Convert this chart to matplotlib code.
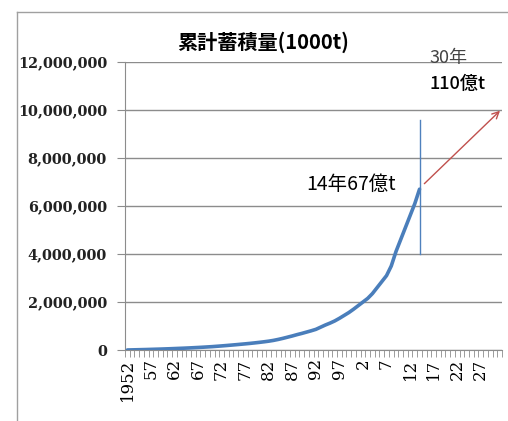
import matplotlib
matplotlib.use("Agg")
import matplotlib.pyplot as plt
from matplotlib.lines import Line2D
from matplotlib.ticker import FuncFormatter

plt.rcParams['font.family'] = ['Noto Sans CJK JP', 'DejaVu Sans']

# categories 1952..2031, data only up to 2014
years = list(range(1952, 2032))
tick_labels = ['1952', '57', '62', '67', '72', '77', '82', '87', '92', '97',
               '2', '7', '12', '17', '22', '27']

# cumulative stock (1000t), 1952-2014
stock = [0, 5000, 10000, 15000, 20000, 26000, 32000, 38000, 45000, 52000,
         60000, 68000, 76000, 85000, 95000, 105000, 116000, 128000, 140000, 155000,
         170000, 186000, 203000, 220000, 238000, 256000, 275000, 296000, 318000, 342000,
         368000, 400000, 440000, 485000, 535000, 585000, 640000, 690000, 745000, 800000,
         860000, 950000, 1040000, 1120000, 1210000, 1320000, 1440000, 1560000, 1700000, 1850000,
         2000000, 2150000, 2350000, 2600000, 2850000, 3100000, 3500000, 4100000, 4600000, 5100000,
         5600000, 6100000, 6700000]

mark_year = 2014
mark_line = (4000000, 9600000)
arrow_start = (2014.6, 6850000)
arrow_end = (2031.5, 10050000)

fig = plt.figure(figsize=(5.08, 4.21), dpi=100)
ax = fig.add_axes([125/508, 1-350/421, 377/508, 288/421])

idx = lambda y: y - years[0]

ax.plot([idx(y) for y in years[:len(stock)]], stock, color='#4a7ebb', lw=2.6,
        solid_capstyle='round', zorder=3)

ax.set_xlim(-0.5, len(years) - 0.5)
ax.set_ylim(0, 12000000)
ax.set_yticks(range(0, 12000001, 2000000))
ax.yaxis.set_major_formatter(FuncFormatter(lambda v, p: f'{int(v):,}'))
ax.yaxis.grid(True, color='#8c8c8c', lw=1)
ax.set_axisbelow(True)

ax.set_xticks([i * 5 for i in range(len(tick_labels))])
ax.set_xticklabels(tick_labels, rotation=90, family='DejaVu Serif', fontsize=12)
ax.set_xticks([i - 0.5 for i in range(len(years) + 1)], minor=True)
ax.tick_params(axis='x', which='major', length=0, pad=6)
ax.tick_params(axis='x', which='minor', length=5, color='#8c8c8c', direction='out')
ax.tick_params(axis='y', length=6, color='#8c8c8c', pad=7)
for lab in ax.get_yticklabels():
    lab.set_family('DejaVu Serif')
    lab.set_fontweight('bold')
    lab.set_fontsize(10.4)
    lab.set_color('#222222')

for s in ['top', 'right']:
    ax.spines[s].set_visible(False)
ax.spines['left'].set_color('#8c8c8c')
ax.spines['bottom'].set_color('#8c8c8c')

# marker line at 2014 and projection arrow
ax.plot([idx(mark_year)] * 2, mark_line, color='#4f81bd', lw=1, zorder=2)
ax.annotate('', xy=(idx(arrow_end[0]), arrow_end[1]),
            xytext=(idx(arrow_start[0]), arrow_start[1]),
            arrowprops=dict(arrowstyle='->', color='#c0504d', lw=1, mutation_scale=12),
            annotation_clip=False)

ax.text(idx(1999.4), 6900000, '14年67億t', fontsize=14, ha='center', va='center')
ax.text(idx(2016.2), 12150000, '30年', fontsize=13, ha='left', va='center',
        color='#444444', clip_on=False)
ax.text(idx(2016.2), 11100000, '110億t', fontsize=13, ha='left', va='center',
        fontweight='medium', clip_on=False)

fig.text(263/508, 1-42/421, '累計蓄積量(1000t)', fontsize=14.5, fontweight='bold',
         ha='center', va='center')

# chart area frame
fig.add_artist(Line2D([17/508, 17/508], [0, 1-12/421], color='#a0a0a0', lw=1))
fig.add_artist(Line2D([17/508, 1], [1-12/421, 1-12/421], color='#a0a0a0', lw=1))

fig.savefig('out.png', dpi=100)
